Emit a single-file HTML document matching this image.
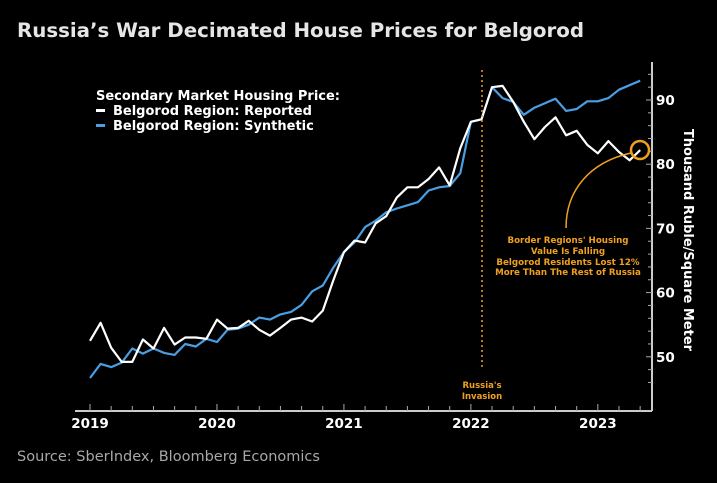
<!DOCTYPE html>
<html><head><meta charset="utf-8"><style>
body{margin:0;background:#000;width:717px;height:479px;overflow:hidden;font-family:"DejaVu Sans","Liberation Sans",sans-serif}
</style></head><body>
<svg width="717" height="479" xmlns="http://www.w3.org/2000/svg">
<text x="17" y="37" fill="#e6e6e6" font-size="19.8" font-weight="bold">Russia’s War Decimated House Prices for Belgorod</text>
<text x="17" y="461" fill="#a8a8a8" font-size="14.5" font-family="DejaVu Sans, sans-serif">Source: SberIndex, Bloomberg Economics</text>
<g font-weight="bold" font-size="13" fill="#fff">
<text x="96" y="100">Secondary Market Housing Price:</text>
<rect x="96" y="109" width="9" height="3" fill="#fff"/>
<text x="113" y="115">Belgorod Region: Reported</text>
<rect x="96" y="124" width="9" height="3" fill="#4a9fe4"/>
<text x="113" y="130">Belgorod Region: Synthetic</text>
</g>
<g id="axes"></g>
<g id="marks"></g>
<g>
<line x1="482" y1="70" x2="482" y2="370" stroke="#f0a020" stroke-width="1.5" stroke-dasharray="2,3"/>
<text x="482" y="388" text-anchor="middle" fill="#f0a020" font-size="8.5" font-weight="bold">Russia's</text>
<text x="482" y="399" text-anchor="middle" fill="#f0a020" font-size="8.5" font-weight="bold">Invasion</text>
</g>
<g>
<circle cx="640" cy="150" r="9" fill="none" stroke="#f0a020" stroke-width="2.5"/>
<path d="M566,228 C566,190 590,162 631,153" fill="none" stroke="#f0a020" stroke-width="1.5"/>
<g fill="#f0a020" font-size="8.7" font-weight="bold" text-anchor="middle">
<text x="568" y="243">Border Regions' Housing</text>
<text x="568" y="254">Value Is Falling</text>
<text x="568" y="265">Belgorod Residents Lost 12%</text>
<text x="568" y="275">More Than The Rest of Russia</text>
</g></g>
<text transform="translate(684,240) rotate(90)" text-anchor="middle" fill="#fff" font-size="13" font-weight="bold">Thousand Ruble/Square Meter</text>
</svg>
<script>
const reported=[52.5,55.3,51.4,49.2,49.2,52.7,51.3,54.5,51.9,53.0,53.0,52.8,55.8,54.4,54.5,55.6,54.2,53.3,54.5,55.8,56.1,55.5,57.2,61.9,66.3,68.1,67.8,70.8,71.9,74.8,76.4,76.4,77.7,79.5,76.7,82.5,86.6,87.0,92.0,92.2,89.7,86.6,83.9,85.8,87.3,84.5,85.2,83.0,81.7,83.6,81.9,80.6,82.2];
const synthetic=[46.7,48.9,48.4,49.1,51.3,50.5,51.3,50.6,50.3,52.0,51.6,52.8,52.3,54.2,54.4,55.0,56.1,55.8,56.6,57.0,58.1,60.2,61.1,63.9,66.3,67.8,70.2,71.2,72.5,73.1,73.6,74.1,75.9,76.4,76.6,78.6,86.6,87.0,92.0,90.3,89.7,87.7,88.8,89.5,90.2,88.3,88.6,89.8,89.8,90.3,91.6,92.3,93.0];
const yTicks=[50,60,70,80,90];
const xYears=[2019,2020,2021,2022,2023];
const NS="http://www.w3.org/2000/svg";
const xs=i=>90+i*10.58;
const ys=v=>100+(90-v)*6.42;
const axes=document.getElementById('axes'),marks=document.getElementById('marks');
function mk(tag,attrs,parent){const e=document.createElementNS(NS,tag);for(const k in attrs)e.setAttribute(k,attrs[k]);parent.appendChild(e);return e;}
let e=mk('line',{x1:75,y1:411,x2:652,y2:411,stroke:'#ccc','stroke-width':2},axes);


e=mk('line',{x1:652,y1:62,x2:652,y2:411,stroke:'#ccc','stroke-width':2},axes);


for(let m=0;m<=53;m+=2){const big=m%12===0;e=mk('line',{x1:xs(m),y1:411,x2:xs(m),y2:big?404:406,stroke:'#aaa','stroke-width':1},axes);

}
xYears.forEach((y,i)=>{e=mk('text',{x:xs(i*12),y:428,'text-anchor':'middle',fill:'#fff','font-size':13.5,'font-weight':'bold'},axes);e.textContent=y;

});
for(let v=46;v<=94;v+=2){e=mk('line',{x1:652,y1:ys(v),x2:v%10===0?646:648,y2:ys(v),stroke:'#aaa','stroke-width':1},axes);

}
yTicks.forEach(v=>{e=mk('text',{x:656,y:ys(v)+5,fill:'#fff','font-size':13.5,'font-weight':'bold'},axes);e.textContent=v;

});
function line(arr,color){return mk('polyline',{points:arr.map((v,i)=>xs(i).toFixed(1)+','+ys(v).toFixed(1)).join(' '),fill:'none',stroke:color,'stroke-width':2.2,'stroke-linejoin':'round'},marks);}
e=line(synthetic,'#4a9fe4');


e=line(reported,'#ffffff');


</script>
</body></html>
